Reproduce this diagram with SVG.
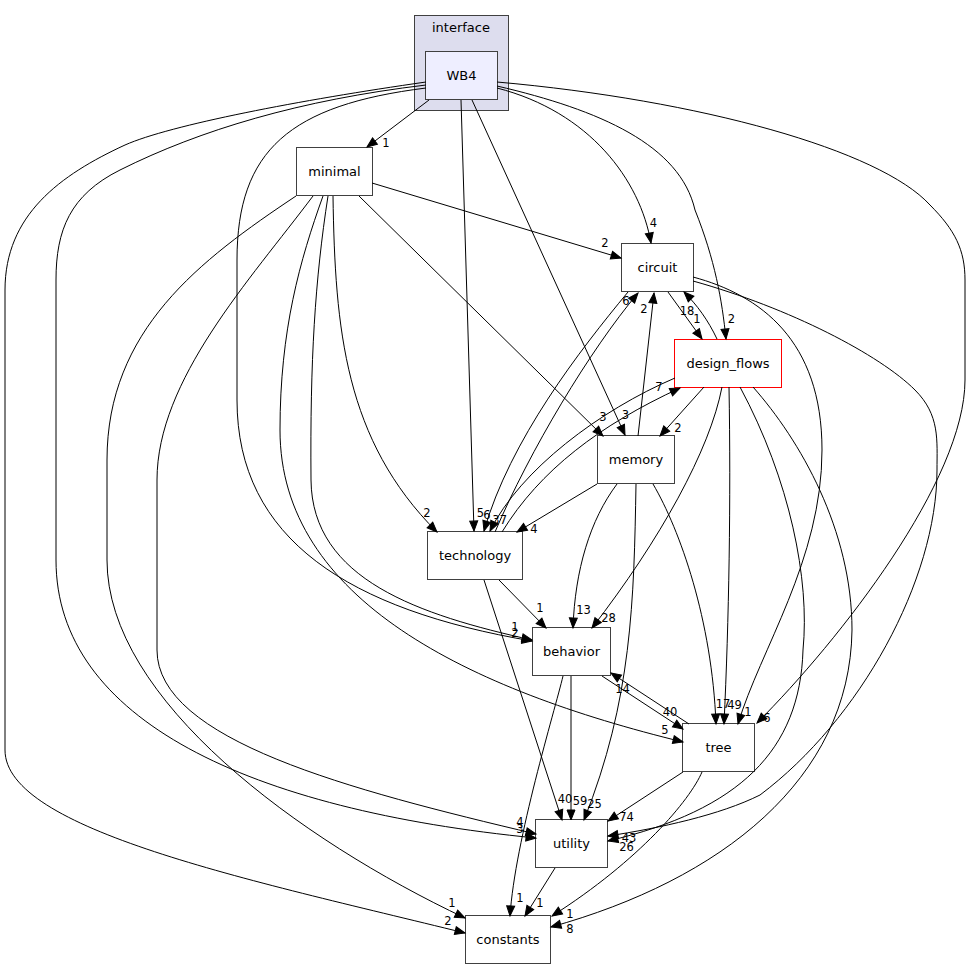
<svg xmlns="http://www.w3.org/2000/svg" width="971" height="969" viewBox="0 0 971 969">
<style>
  .bg{fill:#ffffff}
  .node rect{fill:#ffffff;stroke:#404040;stroke-width:1}
  .node text,.cl text{font-family:"DejaVu Sans",sans-serif;font-size:13px;text-anchor:middle;fill:#000}
  .cl rect{fill:#ddddee;stroke:#404040;stroke-width:1}
  #WB4 rect{fill:#eeeeff}
  #design_flows rect{stroke:#ff0000}
  .edges path{fill:none;stroke:#000;stroke-width:1;marker-end:url(#ah)}
  .edges text{font-family:"DejaVu Sans",sans-serif;font-size:11.5px;text-anchor:middle;fill:#000}
</style>
<defs>
  <marker id="ah" markerUnits="userSpaceOnUse" markerWidth="12" markerHeight="10" refX="10" refY="4" orient="auto" overflow="visible">
    <path d="M0,0 L10,4 L0,8 z" fill="#000" stroke="#000" stroke-width="1"/>
  </marker>
</defs>
<rect class="bg" x="0" y="0" width="971" height="969"/>
<g id="cluster_interface" class="cl">
  <rect x="414.5" y="15.5" width="94" height="95"/>
  <text x="461" y="32">interface</text>
</g>
<g id="WB4" class="node">
  <rect x="425.5" y="51.5" width="72" height="48"/>
  <text x="461.5" y="80">WB4</text>
</g>
<g id="minimal" class="node">
  <rect x="296.5" y="147.5" width="76" height="48"/>
  <text x="334.5" y="176">minimal</text>
</g>
<g id="circuit" class="node">
  <rect x="621.5" y="243.5" width="72" height="48"/>
  <text x="657.5" y="272">circuit</text>
</g>
<g id="design_flows" class="node">
  <rect x="674.5" y="339.5" width="107" height="48"/>
  <text x="728" y="368">design_flows</text>
</g>
<g id="memory" class="node">
  <rect x="597.5" y="435.5" width="77" height="48"/>
  <text x="636" y="464">memory</text>
</g>
<g id="technology" class="node">
  <rect x="427.5" y="531.5" width="95" height="48"/>
  <text x="475" y="560">technology</text>
</g>
<g id="behavior" class="node">
  <rect x="532.5" y="627.5" width="78" height="48"/>
  <text x="571.5" y="656">behavior</text>
</g>
<g id="tree" class="node">
  <rect x="682.5" y="723.5" width="72" height="48"/>
  <text x="718.5" y="752">tree</text>
</g>
<g id="utility" class="node">
  <rect x="535.5" y="819.5" width="72" height="48"/>
  <text x="571.5" y="848">utility</text>
</g>
<g id="constants" class="node">
  <rect x="465.5" y="915.5" width="85" height="48"/>
  <text x="508" y="944">constants</text>
</g>
<g id="connectors" class="edges">
  <path d="M429,100 L367,147"/>
  <path d="M372,183 L621,258"/>
  <path d="M497,88 C590,112 640,180 651,243"/>
  <path d="M497,86 C600,110 680,145 695,210 C715,260 722,300 726,339"/>
  <path d="M497,82 C700,100 880,150 930,205 C955,230 965,250 965,280 L965,380 C965,480 840,640 757,723"/>
  <path d="M472,100 L625,435"/>
  <path d="M461,100 L474,531"/>
  <path d="M426,88 C290,105 237,150 237,260 L237,400 C237,540 350,610 532,641"/>
  <path d="M426,85 C300,100 200,130 120,170 C70,195 56,230 56,280 L56,560 C56,720 250,810 536,838"/>
  <path d="M426,82 C300,100 170,125 125,145 C60,175 5,215 5,290 L5,750 C5,830 250,880 465,933"/>
  <path d="M296,196 C200,260 107,330 107,460 L107,560 C107,700 300,840 465,918"/>
  <path d="M313,196 C250,280 157,380 157,480 L157,650 C157,740 350,790 536,834"/>
  <path d="M323,196 C300,260 280,330 280,430 C280,600 470,690 683,742"/>
  <path d="M328,196 C315,280 310,360 311,480 C312,580 420,615 532,640"/>
  <path d="M333,196 C335,330 345,440 437,532"/>
  <path d="M359,196 L603,436"/>
  <path d="M668,292 L702,339"/>
  <path d="M717,339 C708,320 697,305 684,292"/>
  <path d="M704,387 L660,436"/>
  <path d="M502,532 C540,470 600,425 680,388"/>
  <path d="M675,378 C600,410 520,470 490,531"/>
  <path d="M628,292 C580,350 510,440 484,531"/>
  <path d="M495,532 C530,450 590,350 638,293"/>
  <path d="M638,436 L654,293"/>
  <path d="M597,484 L517,532"/>
  <path d="M617,484 C590,520 575,570 573,628"/>
  <path d="M636,484 C634,600 632,700 584,820"/>
  <path d="M653,484 C680,530 712,620 716,724"/>
  <path d="M729,387 C731,500 729,620 724,724"/>
  <path d="M693,277 C760,295 822,340 822,450 C822,560 760,650 738,724"/>
  <path d="M693,281 C790,308 880,355 915,390 C940,415 937,440 937,470 C937,580 860,720 760,795 C720,815 660,828 608,836"/>
  <path d="M722,387 C710,450 660,540 592,628"/>
  <path d="M499,580 L546,628"/>
  <path d="M484,580 L562,820"/>
  <path d="M571,676 L571,820"/>
  <path d="M563,676 C555,710 515,840 510,916"/>
  <path d="M555,868 L525,916"/>
  <path d="M702,772 C690,800 640,860 552,916"/>
  <path d="M683,772 L608,821"/>
  <path d="M602,676 L683,729"/>
  <path d="M689,724 L611,673"/>
  <path d="M740,387 C790,480 810,580 803,650 C800,750 740,810 608,841"/>
  <path d="M753,387 C800,440 852,530 852,630 C850,780 720,880 551,927"/>
  <text x="386" y="147">1</text>
  <text x="605" y="247">2</text>
  <text x="653.5" y="227">4</text>
  <text x="731.5" y="323">2</text>
  <text x="767" y="722">6</text>
  <text x="625.5" y="419">3</text>
  <text x="480.5" y="517">5</text>
  <text x="487" y="519">6</text>
  <text x="496" y="524">3</text>
  <text x="503.5" y="524">7</text>
  <text x="515" y="631">1</text>
  <text x="515" y="637">2</text>
  <text x="520" y="825.5">4</text>
  <text x="520" y="832.5">3</text>
  <text x="452" y="907">1</text>
  <text x="448" y="925">2</text>
  <text x="665" y="734">5</text>
  <text x="427" y="517">2</text>
  <text x="603" y="420.5">3</text>
  <text x="697" y="323">1</text>
  <text x="687" y="315">18</text>
  <text x="678" y="432">2</text>
  <text x="659" y="391">7</text>
  <text x="626" y="305">6</text>
  <text x="644" y="313">2</text>
  <text x="534" y="533">4</text>
  <text x="583.5" y="614">13</text>
  <text x="594.5" y="808">25</text>
  <text x="723" y="708">17</text>
  <text x="734.5" y="709">49</text>
  <text x="748" y="716">1</text>
  <text x="629" y="842">43</text>
  <text x="608.5" y="622">28</text>
  <text x="540" y="612">1</text>
  <text x="565" y="802.5">40</text>
  <text x="580" y="805">59</text>
  <text x="520" y="902">1</text>
  <text x="540" y="907">1</text>
  <text x="570" y="918">1</text>
  <text x="626.5" y="821">74</text>
  <text x="670" y="716">40</text>
  <text x="622.5" y="693">14</text>
  <text x="626.5" y="851">26</text>
  <text x="570" y="933">8</text>
</g>
</svg>
